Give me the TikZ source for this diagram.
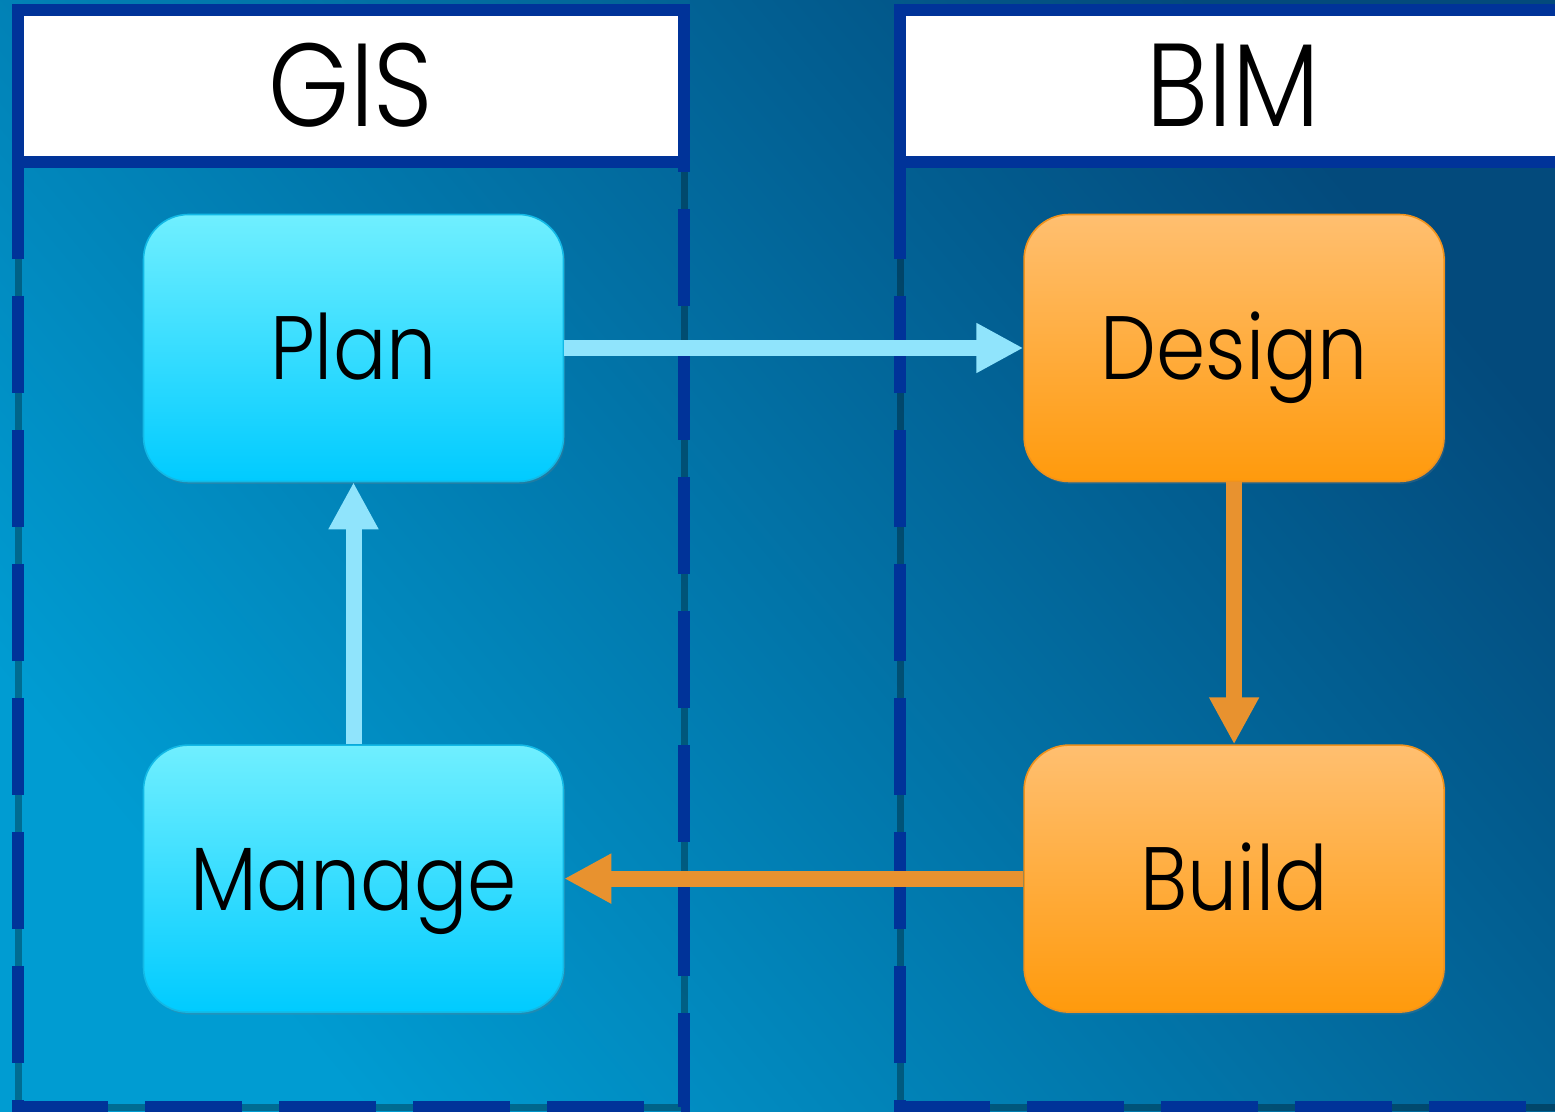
\documentclass[tikz,border=0pt]{standalone}
\usepackage{fontspec}
\setmainfont{Poppins}[UprightFont=* Light, FakeStretch=0.88]
\usetikzlibrary{positioning,arrows.meta,shadows}
\definecolor{lanecol}{HTML}{003399}
\definecolor{bgdark}{HTML}{034A7C}
\definecolor{bglight}{HTML}{009CD2}
\definecolor{cyantop}{HTML}{70EFFF}
\definecolor{cyanbot}{HTML}{00CBFF}
\definecolor{cyanline}{HTML}{12B9E6}
\definecolor{orgtop}{HTML}{FFBF70}
\definecolor{orgbot}{HTML}{FF9A0C}
\definecolor{orgline}{HTML}{F0921C}
\definecolor{bluearr}{HTML}{90E4FC}
\definecolor{orgarr}{HTML}{E8922F}
\tikzset{
  lanehead/.style={draw=lanecol, line width=6pt, fill=white, minimum width=333pt,
    minimum height=76pt, inner sep=0pt, text height=41pt, text depth=0pt,
    font=\fontsize{59}{62}\selectfont},
  lanebody/.style={draw=lanecol, line width=6pt, dash pattern=on 48.5pt off 18.5pt},
  laneshade/.style={draw=black, line width=3.5pt, opacity=0.3},
  stage/.style={rounded corners=22.5pt, line width=0.8pt, minimum width=210pt,
    minimum height=133.5pt, inner sep=0pt, text height=32pt, text depth=0pt,
    font=\fontsize{45}{50}\selectfont,
    drop shadow={opacity=0.25, shadow xshift=0.8pt, shadow yshift=-1.2pt}},
  gisstage/.style={stage, draw=cyanline, top color=cyantop, bottom color=cyanbot},
  bimstage/.style={stage, draw=orgline, top color=orgtop, bottom color=orgbot},
  flow/.style={line width=8pt, -{Triangle[length=23.5pt, width=23.5pt]}},
}
\begin{document}
\begin{tikzpicture}[x=0.5pt, y=-0.5pt]
  \useasboundingbox (0,0) rectangle (1555,1112);
  \clip (0,0) rectangle (1555,1112);
  \shade[top color=bgdark, bottom color=bglight, shading angle=-50] (0,0) rectangle (1555,1112);
  \foreach \x in {18,900}{
    \draw[laneshade] (\x,162) -- (\x,1107) -- (\x+666,1107) -- (\x+666,162);
    \draw[lanebody] (\x,162) -- (\x,1107) -- (\x+666,1107) -- (\x+666,162);
  }
  \node[lanehead] (gis) at (351,86) {GIS};
  \node[lanehead] (bim) at (1233,86) {BIM};
  \node[gisstage] (plan) at (353.5,348) {Plan};
  \node[gisstage, below=131pt of plan] (manage) {Manage};
  \node[bimstage, right=229.5pt of plan] (design) {Design};
  \node[bimstage, right=229.5pt of manage] (build) {Build};
  \draw[flow, bluearr] (plan) -- (design);
  \draw[flow, bluearr] (manage) -- (plan);
  \draw[flow, orgarr] (design) -- (build);
  \draw[flow, orgarr] (build) -- (manage);
\end{tikzpicture}
\end{document}
